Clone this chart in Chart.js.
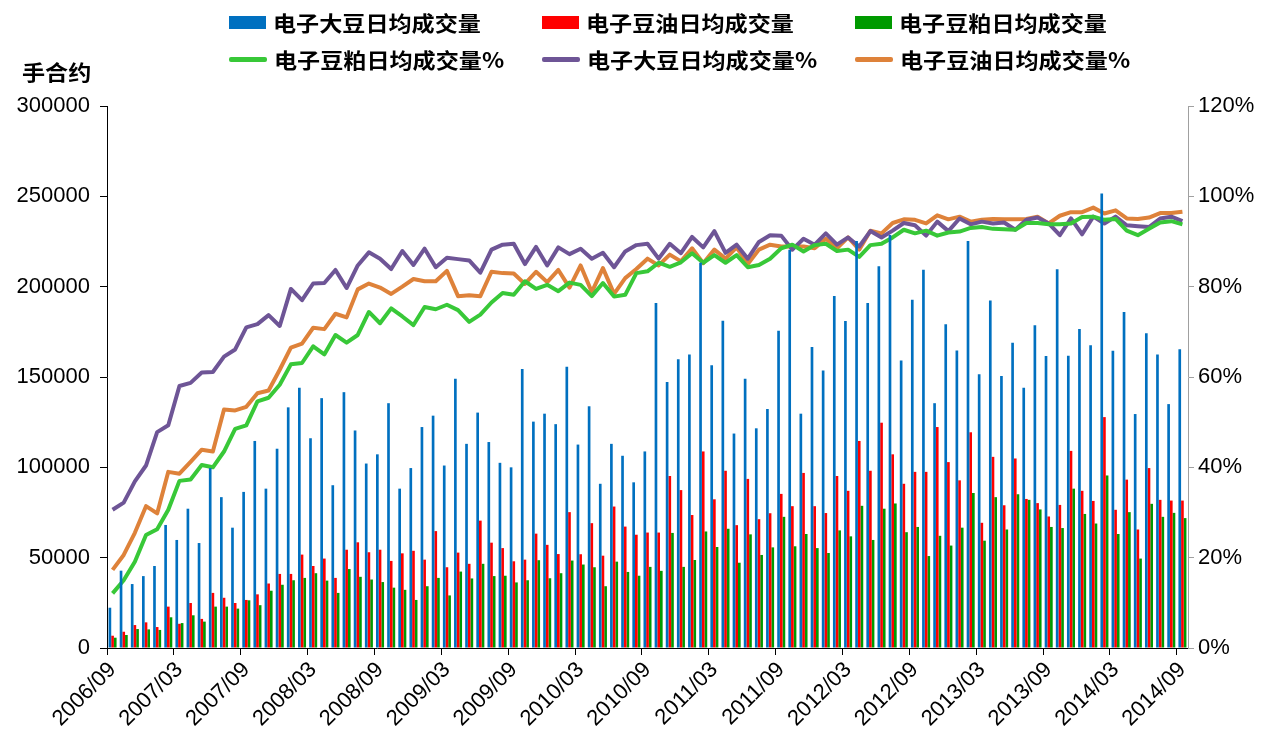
<!DOCTYPE html>
<html>
<head>
<meta charset="utf-8">
<title>电子大豆、豆油、豆粕日均成交量</title>
<script src="https://cdn.jsdelivr.net/npm/chart.js"></script>
<style>
  html, body { margin: 0; padding: 0; background: #fff; }
  #wrap { position: relative; width: 1283px; height: 738px; overflow: hidden; }
  #chart { position: absolute; left: 0; top: 0; }
  .item { position: absolute; height: 24px; display: flex; align-items: center; white-space: nowrap; }
  .sw.box { width: 37px; height: 13px; }
  .sw.line { width: 38px; height: 5px; border-radius: 2px; }
  .txt, .unit { font-family: "Noto Sans CJK SC", sans-serif; font-weight: bold; font-size: 21px; color: #000;
         display: inline-block; line-height: 24px; transform: scaleX(1.1); transform-origin: left center; }
  .txt { margin-left: 7px; }
  .unit { position: absolute; left: 22px; top: 59px; }
</style>
</head>
<body>
<div id="wrap">
  <canvas id="chart" width="1283" height="738"></canvas>
  <div id="legend"></div>
  <div class="unit">手合约</div>
</div>
<script>
// months, 2006/09 .. 2014/09
var months = [
  '2006/09', '2006/10', '2006/11', '2006/12',
  '2007/01', '2007/02', '2007/03', '2007/04', '2007/05', '2007/06', '2007/07', '2007/08', '2007/09', '2007/10', '2007/11', '2007/12',
  '2008/01', '2008/02', '2008/03', '2008/04', '2008/05', '2008/06', '2008/07', '2008/08', '2008/09', '2008/10', '2008/11', '2008/12',
  '2009/01', '2009/02', '2009/03', '2009/04', '2009/05', '2009/06', '2009/07', '2009/08', '2009/09', '2009/10', '2009/11', '2009/12',
  '2010/01', '2010/02', '2010/03', '2010/04', '2010/05', '2010/06', '2010/07', '2010/08', '2010/09', '2010/10', '2010/11', '2010/12',
  '2011/01', '2011/02', '2011/03', '2011/04', '2011/05', '2011/06', '2011/07', '2011/08', '2011/09', '2011/10', '2011/11', '2011/12',
  '2012/01', '2012/02', '2012/03', '2012/04', '2012/05', '2012/06', '2012/07', '2012/08', '2012/09', '2012/10', '2012/11', '2012/12',
  '2013/01', '2013/02', '2013/03', '2013/04', '2013/05', '2013/06', '2013/07', '2013/08', '2013/09', '2013/10', '2013/11', '2013/12',
  '2014/01', '2014/02', '2014/03', '2014/04', '2014/05', '2014/06', '2014/07', '2014/08', '2014/09'
];

// daily average volume (手合约)
var soybeanVol = [
  22300, 42800, 35400, 39800, 45400, 68100, 59800, 77100, 58100, 99600, 83500, 66600, 86400, 114600, 88200, 110300, 133200,
  144100, 116100, 138300, 90100, 141600, 120400, 102100, 107200, 135500, 88200, 99600, 122300, 128600, 101000, 149000, 113000,
  130300, 114000, 102500, 100000, 154400, 125300, 129700, 123900, 155700, 112600, 133800, 90900, 113000, 106400, 91700, 108800,
  190900, 147200, 159800, 162400, 213200, 156500, 181200, 118700, 149000, 121600, 132300, 175600, 220400, 129700, 166600, 153600,
  194800, 181000, 225300, 190900, 211300, 228600, 159200, 192800, 209300, 135500, 179200, 164700, 225300, 151500, 192300, 150500,
  169000, 144100, 178700, 161600, 209700, 161800, 176500, 167600, 251500, 164500, 186000, 129500, 174200, 162500, 135000, 165300
];
var soyOilVol = [
  6800, 9000, 12700, 14200, 11600, 22900, 13400, 24900, 16100, 30500, 27800, 24900, 26600, 29700, 35700, 41000, 41000,
  51700, 45400, 49500, 38800, 54400, 58500, 53000, 54400, 48200, 52400, 53800, 48900, 64700, 44700, 52800, 46600,
  70500, 58300, 55300, 48000, 48900, 63300, 57100, 52000, 75200, 51900, 69100, 51100, 78300, 67200, 62700, 63900,
  63900, 95200, 87400, 73600, 108800, 82300, 98100, 68000, 93600, 71300, 74600, 85300, 78500, 96900, 78500, 74700,
  95200, 87000, 114600, 98100, 124700, 107200, 90900, 97500, 97500, 122300, 102900, 92800, 119400, 69300, 105800, 79000,
  104900, 82500, 80200, 72800, 79200, 109100, 87000, 81400, 127800, 76500, 93200, 65600, 99600, 82000, 81600, 81600
];
var soyMealVol = [
  5700, 7200, 10500, 10300, 10000, 17000, 13800, 18100, 14600, 22900, 22900, 21800, 26400, 23700, 31700, 35000, 37500,
  38800, 41400, 37300, 30500, 43700, 39400, 37900, 36500, 33400, 32200, 26600, 34200, 38800, 29100, 42300, 38500,
  46600, 39800, 40000, 36300, 37500, 48600, 38600, 41400, 48400, 46200, 44700, 34200, 47800, 42100, 40000, 44900,
  42700, 63700, 44900, 48700, 64500, 55900, 66000, 47200, 62900, 51500, 55700, 72600, 56300, 63100, 55300, 52600,
  65100, 61800, 78700, 59800, 77100, 80000, 64100, 67000, 50900, 62100, 56700, 66600, 85800, 59400, 83500, 65600,
  85100, 82000, 76700, 67000, 66400, 88200, 74200, 68900, 95500, 63100, 75200, 49500, 79800, 72600, 74800, 71900
];

// share of volume (%)
var soyMealPct = [
  12.1, 15.0, 19.1, 25.0, 26.3, 30.6, 37.0, 37.3, 40.5, 40.0, 43.5, 48.5, 49.3, 54.6, 55.4, 58.3, 62.8,
  63.1, 66.8, 65.0, 69.3, 67.6, 69.3, 74.4, 71.9, 75.2, 73.4, 71.5, 75.5, 75.0, 76.0, 74.8, 72.2,
  73.8, 76.5, 78.6, 78.2, 81.2, 79.5, 80.4, 79.0, 80.9, 80.4, 77.9, 80.8, 77.8, 78.2, 83.0, 83.4,
  85.3, 84.4, 85.4, 87.4, 85.3, 87.0, 85.3, 87.0, 84.3, 84.8, 86.2, 88.5, 89.3, 87.8, 89.2, 89.5,
  87.9, 88.2, 86.6, 89.2, 89.5, 90.9, 92.6, 91.8, 92.4, 91.3, 92.0, 92.2, 93.0, 93.2, 92.8, 92.7,
  92.6, 94.1, 94.1, 93.8, 93.8, 94.0, 95.4, 95.5, 94.8, 95.0, 92.4, 91.4, 92.8, 94.2, 94.5, 93.8
];
var soybeanPct = [
  30.6, 32.2, 36.9, 40.4, 47.8, 49.3, 58.0, 58.7, 61.0, 61.1, 64.5, 66.1, 71.0, 71.7, 73.7, 71.3, 79.5,
  77.0, 80.7, 80.8, 83.7, 79.7, 84.7, 87.6, 86.2, 83.9, 87.9, 84.8, 88.4, 84.3, 86.4, 86.1, 85.8,
  83.1, 88.2, 89.3, 89.5, 85.0, 88.8, 84.7, 88.7, 87.2, 88.4, 86.2, 87.5, 84.3, 87.8, 89.2, 89.5,
  86.2, 89.5, 87.4, 91.0, 88.7, 92.3, 87.5, 89.3, 86.2, 89.9, 91.4, 91.3, 88.2, 90.6, 89.3, 91.8,
  89.3, 90.9, 88.9, 92.3, 90.9, 92.4, 94.1, 93.6, 91.3, 94.4, 92.3, 95.1, 93.8, 94.4, 94.0, 94.2,
  92.6, 94.8, 95.3, 94.0, 91.4, 95.1, 91.6, 95.5, 94.0, 95.5, 93.6, 93.4, 93.2, 95.1, 95.5, 94.5
];
var soyOilPct = [
  17.3, 20.6, 25.5, 31.4, 29.8, 39.0, 38.6, 41.2, 43.9, 43.5, 52.8, 52.6, 53.4, 56.4, 57.0, 61.6, 66.5,
  67.4, 70.9, 70.6, 74.0, 73.2, 79.4, 80.7, 79.8, 78.4, 80.0, 81.7, 81.2, 81.2, 83.5, 77.9, 78.1,
  77.9, 83.3, 83.0, 82.9, 80.6, 83.3, 81.0, 83.7, 79.8, 84.7, 78.8, 84.1, 78.4, 81.9, 83.9, 86.2,
  84.7, 87.1, 85.6, 88.5, 85.2, 88.2, 86.2, 88.7, 85.0, 88.2, 89.3, 88.9, 88.9, 88.9, 88.5, 90.6,
  88.5, 90.9, 88.2, 92.4, 91.8, 94.1, 94.9, 94.8, 94.0, 95.8, 94.9, 95.5, 94.4, 94.8, 95.0, 94.9,
  94.9, 95.0, 95.5, 94.0, 95.7, 96.5, 96.5, 97.5, 96.2, 96.9, 95.1, 95.0, 95.3, 96.3, 96.3, 96.6
];

var volMax = 300000, volStep = 50000;
var pctMax = 120, pctStep = 20;
var labelEvery = 6;

var legendCols = [229, 542, 855];
var legendRows = [10, 47];
var tickFont = { family: '"Liberation Sans", Arial, sans-serif', size: 22 };

var htmlLegend = {
  id: 'htmlLegend',
  afterUpdate: function (chart) {
    var box = document.getElementById('legend');
    box.innerHTML = '';
    chart.data.datasets.forEach(function (ds, i) {
      var item = document.createElement('div');
      item.className = 'item';
      item.style.left = legendCols[i % 3] + 'px';
      item.style.top = legendRows[Math.floor(i / 3)] + 'px';
      var sw = document.createElement('span');
      sw.className = ds.type === 'line' ? 'sw line' : 'sw box';
      sw.style.background = ds.type === 'line' ? ds.borderColor : ds.backgroundColor;
      var tx = document.createElement('span');
      tx.className = 'txt';
      tx.textContent = ds.label;
      item.appendChild(sw);
      item.appendChild(tx);
      box.appendChild(item);
    });
  }
};

function barSet(label, data, color) {
  return {
    type: 'bar', label: label, data: data, yAxisID: 'y', order: 0,
    backgroundColor: color, borderWidth: 0,
    categoryPercentage: 0.72, barPercentage: 1.0
  };
}
function lineSet(label, data, color) {
  return {
    type: 'line', label: label, data: data, yAxisID: 'y1', order: 1,
    borderColor: color, backgroundColor: color, borderWidth: 4,
    pointRadius: 0, tension: 0, borderJoinStyle: 'round', fill: false
  };
}

new Chart(document.getElementById('chart'), {
  type: 'bar',
  data: {
    labels: months,
    datasets: [
      barSet('电子大豆日均成交量', soybeanVol, '#0070C0'),
      barSet('电子豆油日均成交量', soyOilVol, '#FF0000'),
      barSet('电子豆粕日均成交量', soyMealVol, '#009A00'),
      lineSet('电子豆粕日均成交量%', soyMealPct, '#38C838'),
      lineSet('电子大豆日均成交量%', soybeanPct, '#6E5596'),
      lineSet('电子豆油日均成交量%', soyOilPct, '#DE823A')
    ]
  },
  options: {
    responsive: false,
    animation: false,
    devicePixelRatio: 1,
    layout: { padding: { top: 106, left: 0, right: 0, bottom: 0 } },
    plugins: {
      legend: { display: false },
      tooltip: { enabled: false }
    },
    scales: {
      x: {
        offset: true,
        grid: {
          offset: true, drawOnChartArea: false, tickLength: 7,
          tickColor: function (c) { return c.index % labelEvery === 0 ? '#000' : 'rgba(0,0,0,0)'; }
        },
        border: { color: '#000', width: 1 },
        ticks: {
          autoSkip: false, minRotation: 45, maxRotation: 45, padding: 2,
          color: '#000', font: tickFont,
          callback: function (v, i) { return i % labelEvery === 0 ? this.getLabelForValue(v) : ''; }
        },
        afterFit: function (s) { s.height = 90; }
      },
      y: {
        position: 'left', min: 0, max: volMax,
        grid: { drawOnChartArea: false, tickLength: 7, tickColor: '#000' },
        border: { color: '#000', width: 1 },
        ticks: {
          stepSize: volStep, padding: 10, color: '#000', font: tickFont,
          callback: function (v) { return String(v); }
        },
        afterFit: function (s) { s.width = 107; }
      },
      y1: {
        position: 'right', min: 0, max: pctMax,
        grid: { drawOnChartArea: false, tickLength: 6, tickColor: '#A0A0A0' },
        border: { color: '#A0A0A0', width: 1 },
        ticks: {
          stepSize: pctStep, padding: 4, color: '#000', font: tickFont,
          callback: function (v) { return v + '%'; }
        },
        afterFit: function (s) { s.width = 95; }
      }
    }
  },
  plugins: [htmlLegend]
});
</script>
</body>
</html>
